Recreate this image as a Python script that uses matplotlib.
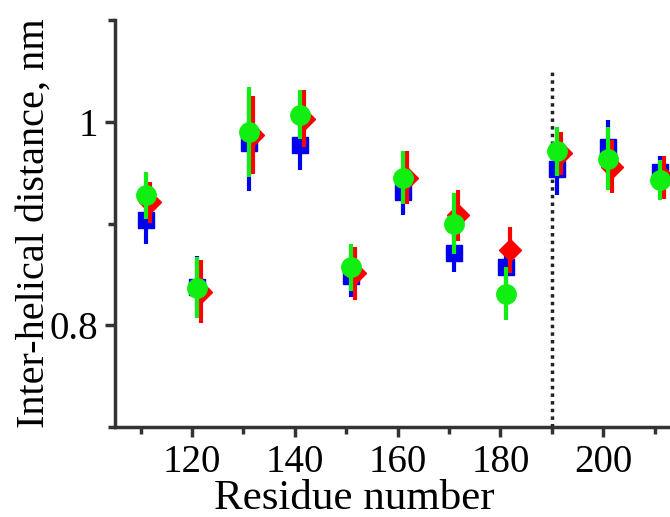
import matplotlib
matplotlib.use("Agg")
import matplotlib.pyplot as plt
from matplotlib.ticker import MultipleLocator, FuncFormatter

# residue positions and the three measured series (nm)
residues = [111, 121, 131, 141, 151, 161, 171, 181, 191, 201, 211]

blue_vals = [0.904, 0.838, 0.979, 0.977, 0.848, 0.931, 0.871, 0.857, 0.954, 0.975, 0.951]
blue_err = [0.024, 0.030, 0.047, 0.024, 0.020, 0.023, 0.019, 0.015, 0.026, 0.027, 0.015]

red_vals = [0.921, 0.833, 0.987, 1.003, 0.851, 0.945, 0.908, 0.874, 0.969, 0.956, 0.945]
red_err = [0.020, 0.031, 0.038, 0.028, 0.026, 0.026, 0.025, 0.023, 0.021, 0.026, 0.021]

green_vals = [0.928, 0.837, 0.990, 1.007, 0.857, 0.945, 0.900, 0.831, 0.971, 0.964, 0.943]
green_err = [0.023, 0.030, 0.044, 0.024, 0.023, 0.026, 0.030, 0.026, 0.024, 0.031, 0.020]

boundary = 190

plt.rcParams["font.family"] = ["Liberation Serif", "DejaVu Serif"]

fig = plt.figure(figsize=(6.7, 5.17), dpi=100)
ax = fig.add_axes([0.1716, 0.174, 0.8284, 0.787])

# blue squares, red diamonds (shifted a bit right), green circles on top
ax.errorbar(residues, blue_vals, yerr=blue_err, fmt="s", color="#0000f0",
            markersize=12, elinewidth=3, capsize=0, zorder=2)
ax.errorbar([r + 0.8 for r in residues], red_vals, yerr=red_err, fmt="D", color="#ff0000",
            markersize=11, elinewidth=3, capsize=0, zorder=3)
ax.errorbar(residues, green_vals, yerr=green_err, fmt="o", color="#11ee11",
            markersize=14, elinewidth=3, capsize=0, zorder=4)

# dotted divider
ax.vlines(boundary, 0.7, 1.051, colors="#222222", linestyles=(0, (1, 1.2)),
          linewidth=2.5, zorder=1)

ax.set_xlim(105, 213)
ax.set_ylim(0.7, 1.1)

ax.xaxis.set_major_locator(MultipleLocator(20))
ax.xaxis.set_minor_locator(MultipleLocator(10))
ax.yaxis.set_major_locator(MultipleLocator(0.2))
ax.yaxis.set_minor_locator(MultipleLocator(0.1))
ax.yaxis.set_major_formatter(FuncFormatter(lambda v, p: "%g" % round(v, 2)))

for side in ["top", "right"]:
    ax.spines[side].set_visible(False)
for side in ["left", "bottom"]:
    ax.spines[side].set_linewidth(2.5)
    ax.spines[side].set_color("#333333")

ax.tick_params(which="major", length=7, width=2.5, color="#333333",
               labelsize=28, pad=5)
ax.tick_params(which="minor", length=5, width=2.5, color="#333333")

ax.set_xlabel("Residue number", fontsize=31)
ax.xaxis.set_label_coords(0.432, -0.128)
ax.set_ylabel("Inter-helical distance, nm", fontsize=29, labelpad=-2)

fig.savefig("out.png", dpi=100)
